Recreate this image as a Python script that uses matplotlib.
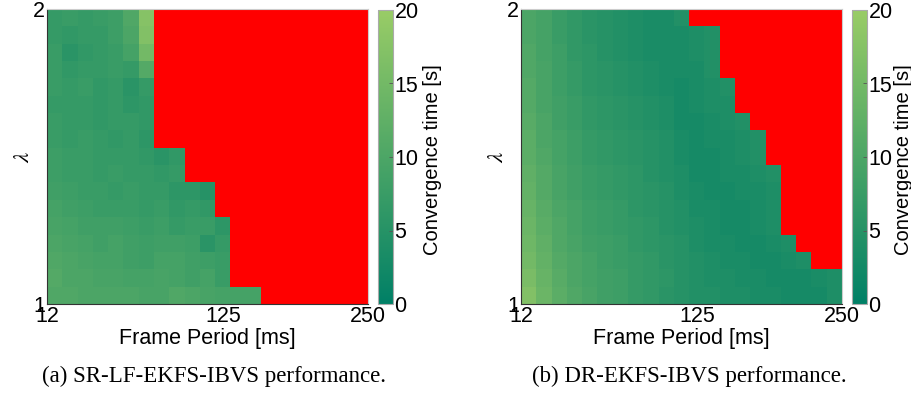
import numpy as np
import matplotlib
matplotlib.use("Agg")
import matplotlib.pyplot as plt
from matplotlib.colors import LinearSegmentedColormap

# ---------------- data ----------------
n_cols = 21
x_tick_labels = ["12", "125", "250"]
x_tick_cols = [0, 11.5, 21]
y_ticks = [1, 2]
y_tick_labels = ["1", "2"]
cbar_ticks = [0, 5, 10, 15, 20]
cbar_labels = ["0", "5", "10", "15", "20"]

# convergence time [s], rows from lambda = 2 (top) to lambda = 1 (bottom);
# missing trailing cells = did not converge (red)
sr_rows = [
    [7.0, 7.5, 7.0, 7.5, 8.0, 10.5, 17.5],
    [7.0, 6.5, 7.0, 7.0, 8.0, 10.0, 17.0],
    [7.5, 5.5, 6.5, 7.0, 7.5, 9.0, 15.0],
    [7.5, 6.5, 7.0, 7.0, 7.5, 7.0, 11.0],
    [7.5, 7.0, 7.5, 6.5, 7.0, 5.5, 7.0],
    [7.0, 7.0, 7.0, 6.5, 7.0, 6.0, 6.5],
    [7.5, 7.0, 7.0, 6.5, 7.0, 7.0, 6.5],
    [7.5, 7.0, 7.5, 7.0, 6.5, 7.0, 6.0],
    [8.0, 7.5, 7.5, 7.0, 7.0, 7.0, 6.5, 5.5, 6.5],
    [8.0, 7.5, 7.5, 7.0, 7.5, 7.0, 7.0, 6.5, 7.0],
    [8.5, 8.0, 7.5, 7.5, 7.0, 7.5, 7.0, 7.0, 6.0, 6.0, 5.0],
    [9.0, 8.5, 8.0, 7.5, 7.5, 7.5, 7.0, 7.5, 6.5, 7.0, 6.5],
    [9.5, 9.0, 8.5, 8.5, 8.5, 8.0, 7.5, 8.0, 7.0, 7.5, 7.5, 6.0],
    [10.0, 9.5, 9.0, 8.5, 9.0, 8.5, 8.0, 8.5, 8.5, 8.0, 5.5, 7.0],
    [10.5, 10.0, 9.5, 9.0, 9.0, 8.5, 8.0, 9.0, 9.0, 8.5, 8.0, 7.5],
    [11.0, 10.0, 10.0, 9.5, 9.5, 9.0, 9.0, 9.5, 9.0, 8.5, 9.0, 7.5],
    [10.5, 10.5, 10.0, 10.0, 10.0, 10.0, 9.5, 9.5, 10.5, 10.0, 9.5, 9.0, 9.0, 9.0],
]

dr_rows = [
    [10.0, 9.0, 7.5, 6.5, 5.5, 5.0, 4.5, 4.0, 3.5, 3.5, 4.5],
    [10.0, 9.0, 7.5, 6.5, 5.5, 5.0, 4.5, 4.0, 3.5, 3.5, 3.5, 4.0, 4.5],
    [10.5, 9.0, 8.0, 6.5, 6.0, 5.0, 4.5, 4.0, 3.5, 3.5, 3.5, 4.0, 4.5],
    [10.5, 9.5, 8.0, 7.0, 6.0, 5.5, 5.0, 4.5, 4.0, 3.5, 3.5, 3.5, 4.5],
    [11.0, 9.5, 8.0, 7.0, 6.0, 5.5, 5.0, 4.5, 4.0, 3.5, 3.0, 3.5, 4.0, 4.5],
    [11.0, 9.5, 8.5, 7.5, 6.5, 6.0, 5.5, 5.0, 4.5, 4.0, 3.0, 3.5, 4.0, 4.0],
    [11.5, 10.0, 8.5, 7.5, 6.5, 6.0, 5.5, 5.0, 4.5, 4.0, 3.0, 3.0, 3.5, 4.0, 4.5],
    [12.0, 10.0, 9.0, 8.0, 7.0, 6.5, 6.0, 5.5, 5.0, 4.5, 3.5, 3.0, 3.5, 3.5, 4.0, 4.5],
    [12.0, 10.5, 9.0, 8.0, 7.0, 6.5, 6.0, 5.5, 5.0, 4.5, 3.5, 3.0, 3.0, 3.5, 4.0, 4.5],
    [12.5, 11.0, 9.5, 8.5, 7.5, 7.0, 6.5, 6.0, 5.0, 4.5, 4.0, 3.0, 3.0, 3.5, 3.5, 4.0, 4.5],
    [13.0, 11.0, 9.5, 8.5, 7.5, 7.0, 6.5, 6.0, 5.5, 5.0, 4.0, 3.5, 3.0, 3.0, 3.5, 3.5, 4.0],
    [13.5, 11.5, 10.0, 9.0, 8.0, 7.5, 7.0, 6.0, 5.5, 5.0, 4.5, 3.5, 3.5, 3.0, 3.0, 3.5, 4.0],
    [14.0, 12.0, 10.5, 9.0, 8.0, 7.5, 7.0, 6.5, 6.0, 5.0, 4.5, 4.0, 3.5, 3.0, 3.0, 3.5, 4.0],
    [14.5, 12.5, 10.5, 9.5, 8.5, 8.0, 7.5, 6.5, 6.0, 5.5, 5.0, 4.0, 3.5, 3.5, 3.0, 3.0, 3.5, 4.0],
    [15.0, 13.0, 11.0, 10.0, 9.0, 8.0, 7.5, 7.0, 6.5, 5.5, 5.0, 4.5, 4.0, 3.5, 3.5, 3.0, 3.0, 3.5, 4.0],
    [16.0, 13.5, 11.5, 10.0, 9.0, 8.5, 8.0, 7.0, 6.5, 6.0, 5.0, 4.5, 4.0, 4.0, 3.5, 3.5, 3.0, 3.0, 3.0, 3.5, 4.0],
    [17.0, 14.0, 12.0, 10.5, 9.5, 8.5, 8.0, 7.0, 6.5, 5.5, 5.0, 4.5, 4.5, 4.0, 4.0, 3.5, 3.5, 3.0, 3.0, 3.0, 4.0],
]

captions = ["(a) SR-LF-EKFS-IBVS performance.", "(b) DR-EKFS-IBVS performance."]
xlabel = "Frame Period [ms]"
ylabel = r"$\lambda$"
cbar_label = "Convergence time [s]"

# ---------------- style ----------------
plt.rcParams["font.family"] = ["Liberation Sans", "DejaVu Sans"]
plt.rcParams["mathtext.fontset"] = "stix"

summer = plt.get_cmap("summer")
cmap = LinearSegmentedColormap.from_list("summer_part", [summer(0.0), summer(0.6)], N=256)
cmap.set_bad("#ff0000")


def to_grid(rows):
    g = np.full((len(rows), n_cols), np.nan)
    for i, r in enumerate(rows):
        g[i, :len(r)] = r
    return np.ma.masked_invalid(g)


W, H = 912, 400
fig = plt.figure(figsize=(W / 100, H / 100), dpi=100)


def frac(x0, y0, x1, y1):
    return [x0 / W, 1 - y1 / H, (x1 - x0) / W, (y1 - y0) / H]


panels = [
    (sr_rows, (47, 9, 368, 304), (378, 10, 393, 304), 433, 214),
    (dr_rows, (521, 9, 842, 304), (852, 10, 867, 304), 904, 689),
]

fs = 15.5
for (rows, ab, cb, lab_x, cap_x), cap in zip(panels, captions):
    ax = fig.add_axes(frac(*ab))
    grid = to_grid(rows)
    im = ax.imshow(grid, cmap=cmap, vmin=0, vmax=20, aspect="auto",
                   interpolation="nearest", origin="upper",
                   extent=(0, n_cols, 1, 2))
    ax.set_xlim(0, n_cols)
    ax.set_ylim(1, 2)
    ax.set_xticks(x_tick_cols)
    ax.set_xticklabels(x_tick_labels, fontsize=fs)
    ax.set_yticks(y_ticks)
    ax.set_yticklabels(y_tick_labels, fontsize=fs)
    ax.tick_params(direction="in", length=0, pad=1.5)
    ax.set_xlabel(xlabel, fontsize=fs, labelpad=1)
    ax.set_ylabel(ylabel, fontsize=fs + 1, labelpad=-1)
    for s in ["left", "bottom"]:
        ax.spines[s].set_color("#333333")
        ax.spines[s].set_linewidth(0.8)
    for s in ["top", "right"]:
        ax.spines[s].set_color("#cccccc")
        ax.spines[s].set_linewidth(0.8)

    cax = fig.add_axes(frac(*cb))
    cbar = fig.colorbar(im, cax=cax, ticks=cbar_ticks)
    cbar.ax.set_yticklabels(cbar_labels, fontsize=fs)
    cbar.ax.tick_params(direction="in", length=3, width=0.6, pad=1, color="#555555")
    cbar.outline.set_edgecolor("#aaaaaa")
    cbar.outline.set_linewidth(0.8)
    fig.text(lab_x / W, 1 - 160 / H, cbar_label, rotation=90, fontsize=14.5,
             ha="center", va="center")

    fig.text(cap_x / W, 1 - 376 / H, cap, fontsize=16.5, ha="center", va="center",
             family=["Liberation Serif", "DejaVu Serif"])

fig.savefig("out.png", dpi=100)
